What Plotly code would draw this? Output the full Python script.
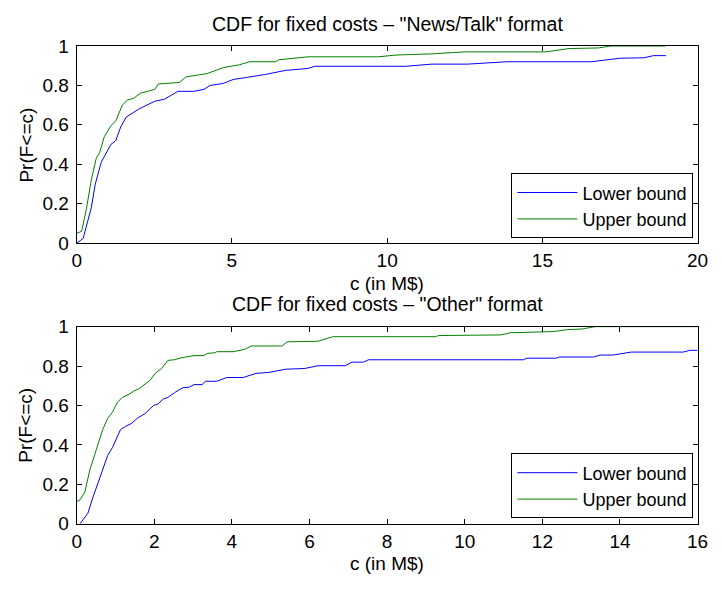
import plotly.graph_objects as go

# ---- Data ----
news_lower_x = [0, 0.21, 0.47, 0.6, 0.79, 1.10, 1.26, 1.42, 1.60, 2.0, 2.52, 2.83, 3.26, 3.78, 4.1, 4.3,
                4.72, 5.04, 5.46, 6.09, 6.72, 7.45, 7.67, 10.6, 11.44, 12.6, 13.86, 16.59, 17.5, 18.27,
                18.58, 18.98]
news_lower_y = [0, 0.024, 0.18, 0.30, 0.41, 0.50, 0.52, 0.59, 0.64, 0.68, 0.72, 0.73, 0.77, 0.77, 0.78, 0.80,
                0.81, 0.83, 0.84, 0.856, 0.876, 0.886, 0.897, 0.897, 0.908, 0.908, 0.92, 0.92, 0.938, 0.94,
                0.951, 0.951]

news_upper_x = [0, 0.16, 0.31, 0.47, 0.63, 0.74, 0.89, 1.10, 1.26, 1.47, 1.63, 1.84, 2.05, 2.52, 2.63, 3.31,
                3.52, 4.2, 4.72, 5.25, 5.57, 6.41, 6.51, 7.04, 7.45, 9.71, 10.29, 11.44, 12.49, 15.12,
                15.86, 16.8, 17.22, 18.98]
news_upper_y = [0.05, 0.06, 0.17, 0.32, 0.43, 0.46, 0.54, 0.595, 0.62, 0.70, 0.725, 0.735, 0.76, 0.78, 0.807,
                0.815, 0.843, 0.86, 0.89, 0.905, 0.92, 0.92, 0.93, 0.938, 0.945, 0.945, 0.954, 0.96, 0.97,
                0.97, 0.987, 0.99, 1.0, 1.0]

other_lower_x = [0.085, 0.29, 0.42, 0.59, 0.80, 0.925, 1.13, 1.26, 1.42, 1.56, 1.76, 1.98, 2.1, 2.23, 2.35,
                 2.52, 2.73, 2.9, 3.02, 3.23, 3.32, 3.61, 3.87, 4.29, 4.62, 4.96, 5.21, 5.38, 5.88, 6.22,
                 6.92, 7.09, 7.39, 7.52, 11.51, 11.6, 12.35, 12.44, 13.32, 13.49, 13.82, 14.29, 15.63,
                 15.8, 16.0]
other_lower_y = [0, 0.054, 0.135, 0.225, 0.347, 0.388, 0.478, 0.494, 0.51, 0.535, 0.559, 0.60, 0.608, 0.633,
                 0.641, 0.665, 0.69, 0.693, 0.706, 0.706, 0.723, 0.723, 0.742, 0.742, 0.763, 0.768, 0.776,
                 0.784, 0.788, 0.802, 0.802, 0.82, 0.82, 0.832, 0.832, 0.84, 0.84, 0.846, 0.846, 0.856,
                 0.856, 0.871, 0.871, 0.88, 0.88]

other_upper_x = [0, 0.08, 0.21, 0.34, 0.50, 0.67, 0.8, 0.925, 1.05, 1.18, 1.35, 1.47, 1.6, 1.76, 1.89, 2.02,
                 2.19, 2.35, 2.52, 2.69, 2.94, 3.02, 3.28, 3.36, 3.57, 3.61, 4.03, 4.2, 4.33, 4.5, 5.29,
                 5.42, 6.22, 6.6, 9.24, 9.33, 10.93, 11.18, 11.77, 12.27, 12.65, 13.02, 13.36, 16.0]
other_upper_y = [0.114, 0.12, 0.16, 0.274, 0.372, 0.478, 0.535, 0.567, 0.617, 0.641, 0.657, 0.673, 0.685,
                 0.706, 0.727, 0.763, 0.788, 0.829, 0.832, 0.842, 0.848, 0.853, 0.853, 0.864, 0.868, 0.873,
                 0.873, 0.881, 0.885, 0.902, 0.902, 0.923, 0.926, 0.949, 0.949, 0.955, 0.958, 0.969, 0.973,
                 0.975, 0.985, 0.988, 1.0, 1.0]

series_names = ["Lower bound", "Upper bound"]
titles = ['CDF for fixed costs \u2013 "News/Talk" format', 'CDF for fixed costs \u2013 "Other" format']
x_label = "c (in M$)"
y_label = "Pr(F<=c)"
x_ticks_top = [0, 5, 10, 15, 20]
x_ticks_bottom = [0, 2, 4, 6, 8, 10, 12, 14, 16]
y_ticks = [0, 0.2, 0.4, 0.6, 0.8, 1]

# ---- Styling ----
W, H = 722, 592
FONT = "Liberation Sans, Arial, Helvetica, sans-serif"
FS = 19
FS_TITLE = 19.5
FS_LEG = 18
BLUE = "rgb(0,0,255)"
GREEN = "rgb(0,128,0)"

def px_x(p):
    return p / W

def px_y(p):
    return (H - p) / H

fig = go.Figure()

fig.add_trace(go.Scatter(x=news_lower_x, y=news_lower_y, mode="lines", name=series_names[0],
                         line=dict(color=BLUE, width=1), xaxis="x", yaxis="y", legend="legend"))
fig.add_trace(go.Scatter(x=news_upper_x, y=news_upper_y, mode="lines", name=series_names[1],
                         line=dict(color=GREEN, width=1), xaxis="x", yaxis="y", legend="legend"))
fig.add_trace(go.Scatter(x=other_lower_x, y=other_lower_y, mode="lines", name=series_names[0],
                         line=dict(color=BLUE, width=1), xaxis="x2", yaxis="y2", legend="legend2"))
fig.add_trace(go.Scatter(x=other_upper_x, y=other_upper_y, mode="lines", name=series_names[1],
                         line=dict(color=GREEN, width=1), xaxis="x2", yaxis="y2", legend="legend2"))

x_dom = [px_x(73.3), px_x(708.3)]
top_dom = [px_y(241.7), px_y(37.3)]
bot_dom = [px_y(532.7), px_y(328.3)]

axis_common = dict(showline=True, linecolor="black", linewidth=1, mirror="ticks", ticks="inside",
                   ticklen=5, tickcolor="black", showgrid=False, zeroline=False,
                   tickfont=dict(family=FONT, size=FS, color="black"))
yaxis_extra = dict(ticklabelstandoff=3)

leg_common = dict(xanchor="right", yanchor="middle", bordercolor="black", borderwidth=1,
                  bgcolor="white", font=dict(family=FONT, size=FS_LEG, color="black"), itemwidth=60)

fig.update_layout(
    width=W, height=H,
    margin=dict(l=0, r=0, t=0, b=0),
    paper_bgcolor="white", plot_bgcolor="white",
    font=dict(family=FONT, size=FS, color="black"),
    xaxis=dict(domain=x_dom, range=[0, 20], tickvals=x_ticks_top, anchor="y", **axis_common),
    yaxis=dict(domain=top_dom, range=[0, 1], tickvals=y_ticks, anchor="x", **axis_common, **yaxis_extra),
    xaxis2=dict(domain=x_dom, range=[0, 16], tickvals=x_ticks_bottom, anchor="y2", **axis_common),
    yaxis2=dict(domain=bot_dom, range=[0, 1], tickvals=y_ticks, anchor="x2", **axis_common, **yaxis_extra),
    legend=dict(x=px_x(704), y=px_y(203), **leg_common),
    legend2=dict(x=px_x(704), y=px_y(493.5), **leg_common),
    showlegend=True,
)

annos = [
    (titles[0], px_x(391.5), px_y(14.5), 0, FS_TITLE),
    (titles[1], px_x(391.5), px_y(305), 0, FS_TITLE),
    (x_label, px_x(390.8), px_y(284), 0, FS),
    (x_label, px_x(390.8), px_y(574), 0, FS),
    (y_label, px_x(21), px_y(140), -90, FS),
    (y_label, px_x(21), px_y(430.5), -90, FS),
]
for text, x, y, ang, fs in annos:
    fig.add_annotation(text=text, x=x, y=y, xref="paper", yref="paper", xanchor="center",
                       yanchor="middle", showarrow=False, textangle=ang,
                       font=dict(family=FONT, size=fs, color="black"))

fig.write_html("out.html")
